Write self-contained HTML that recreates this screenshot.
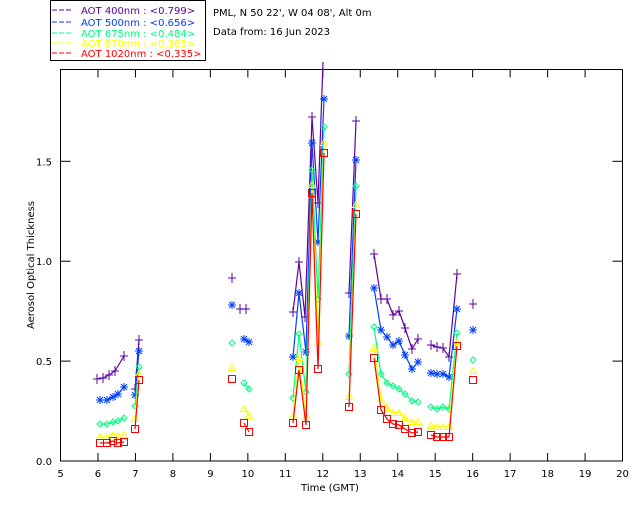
<!DOCTYPE html>
<html><head><style>
html,body{margin:0;padding:0;background:#fff;}
svg{display:block;}
text{font-family:"DejaVu Sans","Liberation Sans",sans-serif;font-size:10px;}
</style></head><body>
<svg id="s" width="640" height="512" viewBox="0 0 640 512" xmlns="http://www.w3.org/2000/svg">
<rect x="0" y="0" width="640" height="512" fill="#fff"/>
<rect x="50.5" y="0.5" width="155" height="60" fill="none" stroke="#000"/>
<g font-size="10">
<line x1="52" y1="10" x2="72" y2="10" stroke="#6000a0" stroke-dasharray="5,2"/>
<text x="81" y="14" fill="#6000a0">AOT  400nm : &lt;0.799&gt;</text>
<line x1="52" y1="22" x2="72" y2="22" stroke="#0040ff" stroke-dasharray="5,2"/>
<text x="81" y="26" fill="#0040ff">AOT  500nm : &lt;0.656&gt;</text>
<line x1="52" y1="33" x2="72" y2="33" stroke="#00ff80" stroke-dasharray="5,2"/>
<text x="81" y="37" fill="#00ff80">AOT  675nm : &lt;0.484&gt;</text>
<line x1="52" y1="43" x2="72" y2="43" stroke="#ffff00" stroke-dasharray="5,2"/>
<text x="81" y="47" fill="#ffff00">AOT  870nm : &lt;0.385&gt;</text>
<line x1="52" y1="53" x2="72" y2="53" stroke="#ff0000" stroke-dasharray="5,2"/>
<text x="81" y="57" fill="#ff0000">AOT 1020nm : &lt;0.335&gt;</text>
</g>
<text x="213" y="16">PML, N 50 22', W 04 08', Alt 0m</text>
<text x="213" y="35">Data from: 16 Jun 2023</text>
<rect x="60.5" y="69.5" width="562" height="391.5" fill="none" stroke="#000"/>
<g id="ax" stroke="#000"></g>
<g id="lbl" text-anchor="middle"></g>
<text x="330" y="491" text-anchor="middle">Time (GMT)</text>
<text transform="translate(34,265) rotate(-90)" text-anchor="middle" font-size="9">Aerosol Optical Thickness</text>
<g id="data"></g>
</svg>
<script>
var ns="http://www.w3.org/2000/svg";
function el(p,t,a,txt){var e=document.createElementNS(ns,t);for(var k in a)e.setAttribute(k,a[k]);if(txt!==undefined)e.textContent=txt;p.appendChild(e);return e;}
var ax=document.getElementById('ax'),lb=document.getElementById('lbl');
for(var h=5;h<=20;h++){var x=60.5+(h-5)*37.47;
 if(h>5&&h<20){el(ax,'line',{x1:x,y1:461,x2:x,y2:453});el(ax,'line',{x1:x,y1:69.5,x2:x,y2:77.5});}
 el(lb,'text',{x:x,y:477},String(h));}
var yl=["0.0","0.5","1.0","1.5"];
for(var i=0;i<4;i++){var y=461-i*0.5*199.8;
 if(i>0){el(ax,'line',{x1:60.5,y1:y,x2:70.5,y2:y});el(ax,'line',{x1:622.5,y1:y,x2:612.5,y2:y});}
 el(lb,'text',{x:44,y:y+4},yl[i]);}
var S=[
{c:"#6000a0",m:"+",g:[[[97,379],[103,378],[109,375],[115,371],[124,356]],[[135,389],[139,340]],[[232,278]],[[240,309],[246,309]],
 [[293,312],[299,262],[305,317],[312,117],[318,203],[323,62]],[[349,293],[356,121]],
 [[374,254],[381,299],[387,299],[393,315],[399,311],[405,328],[412,349],[418,339]],[[431,345],[437,347],[443,348],[449,357],[457,274]],[[473,304]]]},
{c:"#0040ff",m:"*",g:[[[100,400],[107,400],[113,397],[118,394],[124,387]],[[135,395],[139,351]],[[232,305]],[[244,339],[249,342]],
 [[293,357],[299,293],[306,352],[312,143],[318,242],[324,99]],[[349,336],[356,160]],
 [[374,288],[381,330],[387,337],[393,345],[399,341],[405,355],[412,369],[418,362]],[[431,373],[437,374],[443,374],[449,377],[457,309]],[[473,330]]]},
{c:"#00ff80",m:"d",g:[[[100,424],[107,424],[113,422],[118,421],[124,418]],[[135,406],[139,367]],[[232,343]],[[244,383],[249,389]],
 [[293,398],[299,334],[306,392],[312,170],[318,299],[324,127]],[[349,374],[356,186]],
 [[374,327],[381,374],[387,383],[393,386],[399,389],[405,394],[412,401],[418,402]],[[431,407],[437,409],[443,407],[449,409],[457,333]],[[473,360]]]},
{c:"#ffff00",m:"t",g:[[[100,437],[107,437],[113,435],[118,436],[124,435]],[[135,419],[139,374]],[[232,368]],[[244,409],[249,416]],
 [[293,417],[299,358],[306,417],[312,185],[318,343],[324,143]],[[349,397],[356,205]],
 [[374,348],[381,399],[387,408],[393,413],[399,413],[405,418],[412,422],[418,422]],[[431,426],[437,427],[443,427],[449,427],[457,342]],[[473,371]]]},
{c:"#ff0000",m:"s",g:[[[100,443],[107,443],[113,441],[118,443],[124,442]],[[135,429],[139,380]],[[232,379]],[[244,423],[249,432]],
 [[293,423],[299,370],[306,425],[312,193],[318,369],[324,153]],[[349,407],[356,214]],
 [[374,358],[381,410],[387,419],[393,424],[399,425],[405,429],[412,433],[418,432]],[[431,435],[437,437],[443,437],[449,437],[457,346]],[[473,380]]]}
];
var d=document.getElementById('data');
S.forEach(function(s){
 s.g.forEach(function(g){
  if(g.length>1)el(d,'polyline',{points:g.map(function(p){return p.join(',')}).join(' '),fill:'none',stroke:s.c,'stroke-width':1.2});
  g.forEach(function(p){var x=p[0],y=p[1],a={fill:'none',stroke:s.c,'stroke-width':1};
   if(s.m=="+"){if(y<69)return;el(d,'path',Object.assign({d:'M'+(x-4)+' '+y+'h8M'+x+' '+(y-5)+'v10'},a));}
   else if(s.m=="*"){el(d,'path',Object.assign({d:'M'+(x-4)+' '+y+'h8M'+x+' '+(y-4)+'v8M'+(x-3)+' '+(y-3)+'l6 6M'+(x-3)+' '+(y+3)+'l6 -6','stroke-width':1.5},a));}
   else if(s.m=="d"){el(d,'path',Object.assign({d:'M'+(x-3)+' '+y+'l3 -3l3 3l-3 3z'},a));}
   else if(s.m=="t"){el(d,'path',Object.assign({d:'M'+(x-3.5)+' '+(y+2.5)+'h7l-3.5 -6z'},a));}
   else {el(d,'rect',Object.assign({x:x-3.5,y:y-3.5,width:7,height:7},a));}
  });
 });
});
</script>
</body></html>
